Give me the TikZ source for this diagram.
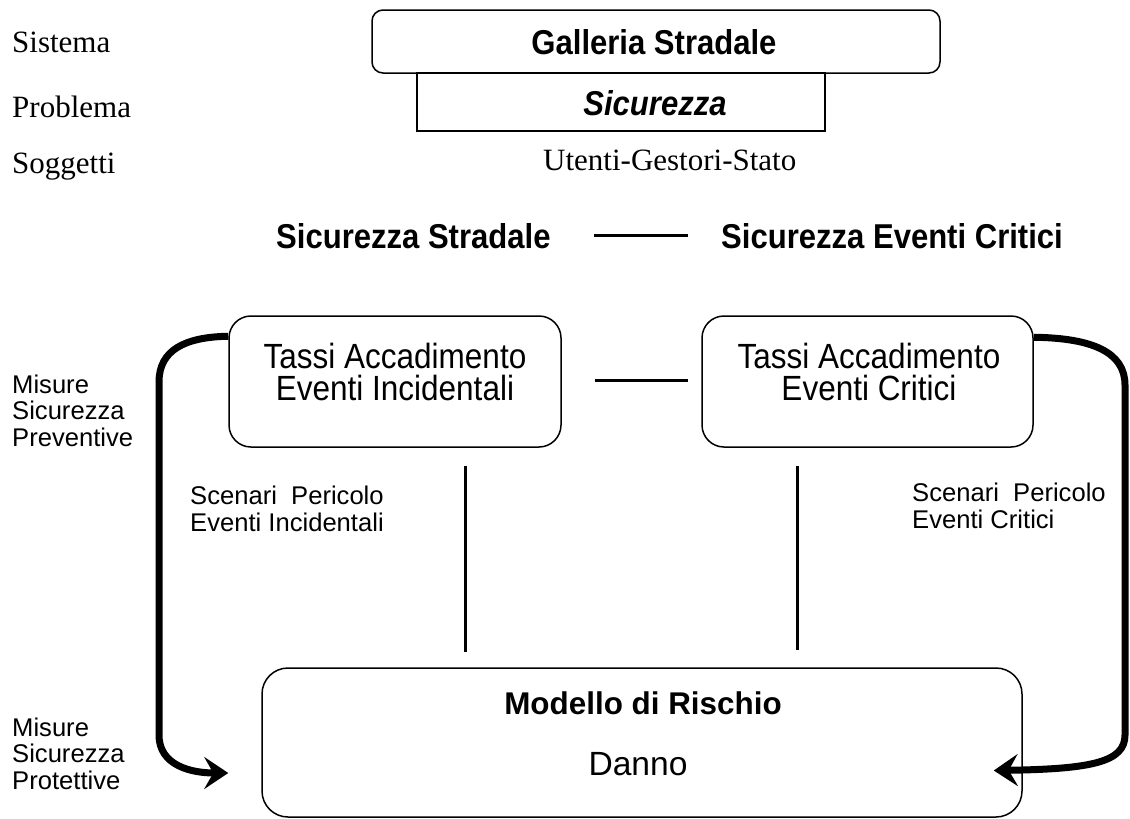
\documentclass[tikz,border=0pt]{standalone}
\usepackage{fontspec}
\setmainfont{Liberation Serif}
\newfontfamily\sansw{Liberation Sans}
\newfontfamily\sansn{Liberation Sans}[FakeStretch=0.9]
\usetikzlibrary{arrows.meta}

\begin{document}
\begin{tikzpicture}[x=1pt,y=-1pt,
  thinbox/.style={draw,line width=1.5pt,inner sep=0pt},
  serif/.style={inner sep=0pt,font=\fontsize{31}{34}\selectfont},
  headbold/.style={inner sep=0pt,font=\sansn\bfseries\fontsize{34.5}{38}\selectfont},
  boxtext/.style={inner sep=0pt,font=\sansn\fontsize{35}{38}\selectfont},
  sidetext/.style={inner sep=0pt,align=left,font=\sansw\fontsize{25.6}{26.5}\selectfont},
  link/.style={line width=3pt},
  loop/.style={line width=7pt,-{Stealth[length=24pt,width=32pt,inset=9pt]}}]
\useasboundingbox (0,0) rectangle (1130,819);

% left column captions
\node[serif,anchor=base west] (sis) at (12,52) {Sistema};
\node[serif,anchor=base west] (pro) at (12,117) {Problema};
\node[serif,anchor=base west] (sog) at (12,173) {Soggetti};

% system / problem stack
\node[thinbox,rounded corners=11pt,minimum width=568pt,minimum height=63pt] (gal) at (656,41.5) {};
\node[headbold,anchor=base] (galt) at (654,54) {Galleria Stradale};
\node[thinbox,minimum width=408pt,minimum height=58pt] (sic) at (621,102) {};
\node[headbold,anchor=base] (sict) at (655,115) {\itshape Sicurezza};
\node[serif,anchor=base west] (ute) at (543,170) {Utenti-Gestori-Stato};

% the two safety domains
\node[headbold,anchor=base west] (sstr) at (276,248) {Sicurezza Stradale};
\node[headbold,anchor=base west] (seve) at (721,248) {Sicurezza Eventi Critici};
\coordinate (hl1) at (594,235);
\coordinate (hl2) at (688,235);
\draw[link] (hl1) -- (hl2);

% rate boxes
\node[thinbox,rounded corners=22pt,minimum width=332pt,minimum height=131pt] (tl) at (395,381.5) {};
\node[thinbox,rounded corners=22pt,minimum width=331pt,minimum height=131pt] (tr) at (867.5,381.5) {};
\node[boxtext,anchor=base] (tl1) at (395,368) {Tassi Accadimento};
\node[boxtext,anchor=base] (tl2) at (395,400) {Eventi Incidentali};
\node[boxtext,anchor=base] (tr1) at (869,368) {Tassi Accadimento};
\node[boxtext,anchor=base] (tr2) at (869,400) {Eventi Critici};
\coordinate (ml1) at (595,380);
\coordinate (ml2) at (688,380);
\draw[link] (ml1) -- (ml2);

% risk model box
\node[thinbox,rounded corners=26pt,minimum width=760pt,minimum height=149pt] (rm) at (642,742.5) {};
\node[inner sep=0pt,anchor=base,font=\sansw\bfseries\fontsize{31.4}{34}\selectfont] (rmt) at (643,714) {Modello di Rischio};
\node[inner sep=0pt,anchor=base,font=\sansw\fontsize{33.6}{36}\selectfont] (dan) at (638,775) {Danno};

% hazard scenarios (base anchor sits on the last line)
\node[sidetext,anchor=base west] (scl) at (190,531) {Scenari\ \ Pericolo\\Eventi Incidentali};
\node[sidetext,anchor=base west] (scr) at (912,528) {Scenari\ \ Pericolo\\Eventi Critici};
\coordinate (vl1) at (465,466);
\coordinate (vl2) at (465,652);
\coordinate (vr1) at (797,466);
\coordinate (vr2) at (797,650);
\draw[link] (vl1) -- (vl2);
\draw[link] (vr1) -- (vr2);

% safety measures
\node[sidetext,anchor=base west] (mpre) at (12,446) {Misure\\Sicurezza\\Preventive};
\node[sidetext,anchor=base west] (mpro) at (12,789) {Misure\\Sicurezza\\Protettive};

% feedback loops
\draw[loop] ([yshift=-21pt]tl.north west) .. controls (185,337) and (159,350) .. (159,382)
  -- (159,735) .. controls (159,766) and (192,773) .. ([xshift=-33pt,yshift=-30.5pt]rm.west);
\draw[loop] ([yshift=-22pt]tr.north east) .. controls (1092,338) and (1125,352) .. (1125,385)
  -- (1125,735) .. controls (1125,762) and (1092,769) .. ([xshift=-29pt,yshift=-28pt]rm.east);
\end{tikzpicture}
\end{document}
